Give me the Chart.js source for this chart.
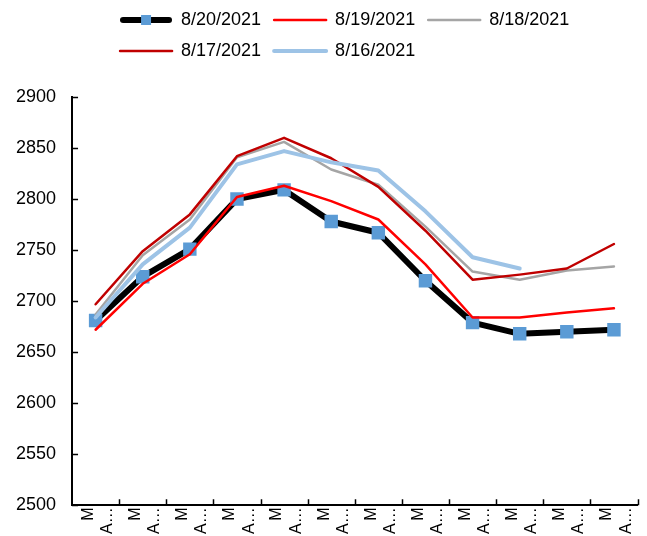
<!DOCTYPE html>
<html>
<head>
<meta charset="utf-8">
<script src="https://cdn.jsdelivr.net/npm/chart.js@4/dist/chart.umd.min.js"></script>
<style>
  html, body { margin: 0; padding: 0; background: #fff; }
  #wrap { width: 647px; height: 536px; }
</style>
</head>
<body>
<div id="wrap"><canvas id="priceChart"></canvas></div>
<script>
// x categories (two-line labels, cut off like in the source chart)
const categories = [
  ['M', 'A…'], ['M', 'A…'], ['M', 'A…'], ['M', 'A…'],
  ['M', 'A…'], ['M', 'A…'], ['M', 'A…'], ['M', 'A…'],
  ['M', 'A…'], ['M', 'A…'], ['M', 'A…'], ['M', 'A…']
];

const seriesNames = ['8/20/2021', '8/19/2021', '8/18/2021', '8/17/2021', '8/16/2021'];

const s0820 = [2681, 2724, 2751, 2800, 2809, 2778, 2767, 2720, 2679, 2668, 2670, 2672];
const s0819 = [2672, 2717, 2746, 2802, 2813, 2798, 2780, 2736, 2684, 2684, 2689, 2693];
const s0818 = [2687, 2745, 2780, 2841, 2856, 2829, 2814, 2773, 2729, 2721, 2730, 2734];
const s0817 = [2697, 2749, 2785, 2842, 2860, 2840, 2812, 2769, 2721, 2726, 2732, 2756];
const s0816 = [2684, 2736, 2772, 2834, 2847, 2836, 2828, 2788, 2743, 2732, null, null];

const yMin = 2500;
const yMax = 2900;
const yStep = 50;

const ctx = document.getElementById('priceChart').getContext('2d');

// legend sample for the marker series: thick black line + blue square
const legendIcon = document.createElement('canvas');
legendIcon.width = 52;
legendIcon.height = 14;
const ic = legendIcon.getContext('2d');
ic.strokeStyle = '#000';
ic.lineWidth = 6;
ic.lineCap = 'round';
ic.beginPath();
ic.moveTo(3, 7);
ic.lineTo(49, 7);
ic.stroke();
ic.fillStyle = '#5B9BD5';
ic.fillRect(21, 2, 10, 10);

// small tick marks pointing into the plot
const insideTicks = {
  id: 'insideTicks',
  beforeDatasetsDraw(chart) {
    const { ctx, chartArea, scales: { x, y } } = chart;
    const step = x.width / categories.length;
    ctx.save();
    ctx.strokeStyle = '#000';
    ctx.lineWidth = 1.5;
    ctx.beginPath();
    y.ticks.forEach(t => {
      const py = Math.round(y.getPixelForValue(t.value)) + 0.5;
      ctx.moveTo(chartArea.left, py);
      ctx.lineTo(chartArea.left + 6, py);
    });
    categories.forEach((c, i) => {
      const px = Math.round(x.getPixelForValue(i) + step / 2) + 0.5;
      ctx.moveTo(px, chartArea.bottom);
      ctx.lineTo(px, chartArea.bottom - 6);
    });
    ctx.stroke();
    ctx.restore();
  }
};

// move the legend block up/right like the Excel legend box
const legendPlace = {
  id: 'legendPlace',
  afterLayout(chart) {
    const lg = chart.legend;
    lg.left += 35; lg.right += 35;
    lg.top -= 27; lg.bottom -= 27;
  }
};

new Chart(ctx, {
  type: 'line',
  data: {
    labels: categories,
    datasets: [
      {
        label: seriesNames[0], data: s0820, order: 5,
        borderColor: '#000', borderWidth: 6,
        pointStyle: 'rect', pointRadius: 9.5, pointHoverRadius: 9.5,
        pointBackgroundColor: '#5B9BD5', pointBorderWidth: 0
      },
      { label: seriesNames[1], data: s0819, order: 4, borderColor: '#FF0000', borderWidth: 2.5, pointRadius: 0 },
      { label: seriesNames[2], data: s0818, order: 3, borderColor: '#A5A5A5', borderWidth: 2.5, pointRadius: 0 },
      { label: seriesNames[3], data: s0817, order: 2, borderColor: '#C00000', borderWidth: 2.5, pointRadius: 0 },
      { label: seriesNames[4], data: s0816, order: 1, borderColor: '#9DC3E6', borderWidth: 4, pointRadius: 0 }
    ]
  },
  options: {
    responsive: true,
    maintainAspectRatio: false,
    devicePixelRatio: 1,
    animation: false,
    layout: { padding: { left: 0, right: 2, top: 25, bottom: 0 } },
    elements: {
      line: { tension: 0, fill: false, borderJoinStyle: 'round', borderCapStyle: 'round' }
    },
    plugins: {
      tooltip: { enabled: false },
      legend: {
        position: 'top',
        align: 'start',
        fullSize: false,
        labels: {
          color: '#000',
          font: { family: '"Liberation Sans", Arial, sans-serif', size: 18 },
          usePointStyle: true,
          pointStyleWidth: 52,
          padding: 13,
          generateLabels: chart => chart.data.datasets.map((ds, i) => ({
            text: ds.label,
            datasetIndex: i,
            fillStyle: ds.borderColor,
            strokeStyle: ds.borderColor,
            lineWidth: ds.borderWidth,
            lineCap: 'round',
            pointStyle: i === 0 ? legendIcon : 'line',
            hidden: false
          }))
        }
      }
    },
    scales: {
      x: {
        type: 'category',
        offset: true,
        grid: { display: false, drawTicks: false },
        border: { display: true, color: '#000', width: 2 },
        afterFit: scale => { scale.paddingRight = 0; },
        ticks: {
          color: '#000',
          font: { family: '"Liberation Sans", Arial, sans-serif', size: 16 },
          minRotation: 90,
          maxRotation: 90,
          autoSkip: false,
          padding: 2,
          labelOffset: -7
        }
      },
      y: {
        min: yMin,
        max: yMax,
        grid: { display: false, drawTicks: false },
        border: { display: true, color: '#000', width: 2 },
        ticks: {
          stepSize: yStep,
          color: '#000',
          padding: 16,
          font: { family: '"Liberation Sans", Arial, sans-serif', size: 18 },
          callback: v => String(v)
        }
      }
    }
  },
  plugins: [insideTicks, legendPlace]
});
</script>
</body>
</html>
